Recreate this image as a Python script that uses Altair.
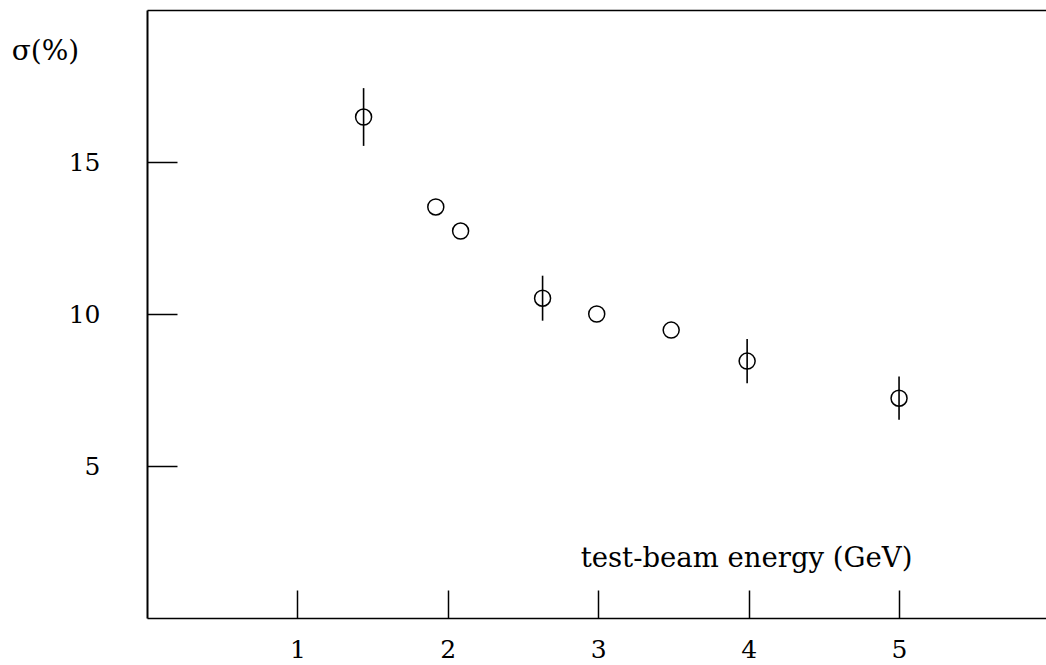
import altair as alt
import pandas as pd

# data
energy = [1.44, 1.92, 2.085, 2.63, 2.99, 3.485, 3.99, 5.0]
sigma = [16.48, 13.52, 12.73, 10.52, 10.0, 9.47, 8.45, 7.23]
err = [0.95, 0.0, 0.0, 0.74, 0.0, 0.0, 0.73, 0.71]

x_ticks = [1, 2, 3, 4, 5]
y_ticks = [5, 10, 15]

df = pd.DataFrame({"x": energy, "y": sigma, "err": err})
df["lo"] = df["y"] - df["err"]
df["hi"] = df["y"] + df["err"]
df_err = df[df["err"] > 0]

FONT = "DejaVu Serif"
xs = alt.Scale(domain=[0, 5.977], nice=False, zero=False)
ys = alt.Scale(domain=[0, 20], nice=False, zero=False)

points = alt.Chart(df).mark_point(
    shape="circle", size=256, filled=False, color="black", strokeWidth=1.5, opacity=1
).encode(
    x=alt.X("x:Q", scale=xs, axis=alt.Axis(
        orient="bottom", offset=-28, tickSize=28, tickWidth=1.5, tickColor="black",
        domain=False, grid=False, values=x_ticks, title=None,
        labelFont=FONT, labelFontSize=25, labelColor="black", labelPadding=19)),
    y=alt.Y("y:Q", scale=ys, axis=alt.Axis(
        orient="left", offset=-30, tickSize=30, tickWidth=1.5, tickColor="black",
        domain=False, grid=False, values=y_ticks, title=None,
        labelFont=FONT, labelFontSize=25, labelColor="black", labelPadding=47)),
)

errs = alt.Chart(df_err).mark_rule(color="black", strokeWidth=1.6).encode(
    x=alt.X("x:Q", scale=xs, axis=alt.Axis(
        orient="top", domain=True, domainColor="black", domainWidth=1.5,
        ticks=False, labels=False, grid=False, title=None)),
    y=alt.Y("lo:Q", scale=ys, axis=alt.Axis(
        orient="left", domain=True, domainColor="black", domainWidth=2,
        ticks=False, labels=False, grid=False,
        title="σ(%)", titleAngle=0, titleFont=FONT, titleFontSize=28,
        titleFontWeight="normal", titleColor="black",
        titleX=-102, titleY=49, titleAlign="center", titleBaseline="alphabetic")),
    y2="hi:Q",
)

frame = alt.Chart(df_err).mark_rule(opacity=0).encode(
    x=alt.X("x:Q", scale=xs, axis=alt.Axis(
        orient="bottom", domain=True, domainColor="black", domainWidth=1.5,
        ticks=False, labels=False, grid=False,
        title="test-beam energy (GeV)", titleFont=FONT, titleFontSize=27.5,
        titleFontWeight="normal", titleColor="black",
        titleX=599, titleY=-52, titleAlign="center", titleBaseline="alphabetic")),
    y=alt.Y("y:Q", scale=ys, axis=None),
)

chart = alt.layer(points, errs, frame).resolve_axis(
    x="independent", y="independent"
).properties(
    width=899, height=608,
    autosize=alt.AutoSizeParams(type="none"),
    padding={"left": 147, "top": 10, "right": 0, "bottom": 47},
    background="white",
).configure_view(stroke=None)

chart.save("out.html", embed_options={"renderer": "svg", "actions": False})
